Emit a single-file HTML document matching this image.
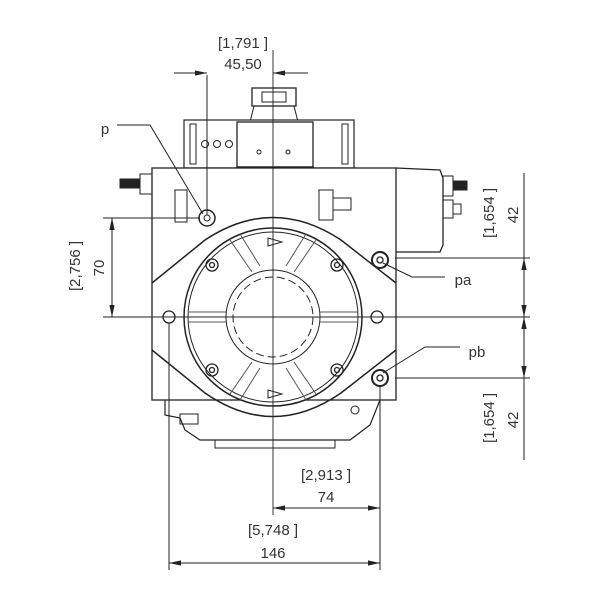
<!DOCTYPE html>
<html><head><style>body{margin:0;background:#fff}svg{display:block}</style></head><body>
<svg width="600" height="600" viewBox="0 0 600 600" xmlns="http://www.w3.org/2000/svg" font-family="Liberation Sans, sans-serif">
<defs>
<marker id="a" viewBox="0 0 10 10" refX="10" refY="5" markerWidth="12" markerHeight="12" markerUnits="userSpaceOnUse" orient="auto-start-reverse"><path d="M0,2.8 L10,5 L0,7.2 z" fill="#222"/></marker>
</defs>
<g stroke="#222" fill="none" stroke-width="1">
<rect x="252" y="88" width="44" height="18" fill="#fff" stroke-width="1.3"/>
<rect x="262" y="92" width="24" height="10"/>
<path d="M254,106 L250,122 M294,106 L298,122"/>
<rect x="184" y="120" width="170" height="48" fill="#fff" stroke-width="1.2"/>
<rect x="190" y="124" width="6" height="40"/><rect x="342" y="124" width="6" height="40"/>
<rect x="237" y="122" width="76" height="106" fill="#fff" stroke-width="1.3"/>
<rect x="237" y="167" width="76" height="60" fill="#fff" stroke-width="1.5"/>
<circle cx="205" cy="144" r="3.5"/><circle cx="217" cy="144" r="3.5"/><circle cx="229" cy="144" r="3.5"/>
<circle cx="259" cy="152" r="2"/><circle cx="288" cy="152" r="2"/>
<rect x="152" y="168" width="244" height="232" fill="#fff" stroke-width="1.3"/>
<path d="M396,168 L440,170 L443,178 L443,245 L440,252 L396,252" stroke-width="1.3"/>
<rect x="443" y="176" width="10" height="20"/><rect x="443" y="200" width="10" height="18"/>
<rect x="453" y="181" width="14" height="9" fill="#222"/><rect x="453" y="204" width="8" height="10"/>
<rect x="140" y="174" width="12" height="20"/><rect x="120" y="179" width="20" height="9" fill="#222"/>
<rect x="175" y="190" width="12" height="32"/>
<rect x="319" y="190" width="14" height="30"/><rect x="333" y="198" width="18" height="12"/>
<circle cx="207" cy="218" r="8" stroke-width="1.5"/><circle cx="207" cy="218" r="3"/>
<path d="M152,283 L205,240 Q273,195 341,240 L396,283" stroke-width="1.5"/>
<path d="M152,350 L205,393 Q273,440 341,393 L396,350" stroke-width="1.5"/>
<circle cx="273" cy="317" r="89" fill="#fff" stroke-width="1.5"/>
<circle cx="273" cy="317" r="85"/>
<circle cx="273" cy="317" r="47"/>
<circle cx="273" cy="317" r="40" stroke-dasharray="8,4"/>
<g stroke="#555">
<path d="M230,240 L252,272 M240,234 L260,266 M316,240 L294,272 M306,234 L286,266"/>
<path d="M230,394 L252,362 M240,400 L260,368 M316,394 L294,362 M306,400 L286,368"/>
<path d="M188,312 L226,312 M188,322 L226,322 M320,312 L358,312 M320,322 L358,322"/>
</g>
<path d="M268,238 L282,242 L268,246 z M268,390 L282,394 L268,398 z"/>
<g stroke-width="1.3">
<circle cx="212" cy="265" r="6"/><circle cx="212" cy="265" r="2.5"/>
<circle cx="337" cy="265" r="6"/><circle cx="337" cy="265" r="2.5"/>
<circle cx="212" cy="370" r="6"/><circle cx="212" cy="370" r="2.5"/>
<circle cx="337" cy="370" r="6"/><circle cx="337" cy="370" r="2.5"/>
<circle cx="169" cy="317" r="6"/><circle cx="377" cy="317" r="6"/>
<circle cx="380" cy="260" r="8" stroke-width="2"/><circle cx="380" cy="260" r="3"/>
<circle cx="380" cy="378" r="8" stroke-width="2"/><circle cx="380" cy="378" r="3"/>
</g>
<path d="M165,400 L165,415 L180,418 L185,430 L200,440 L350,440 L370,425 L380,400" stroke-width="1.2"/>
<rect x="180" y="414" width="18" height="10"/>
<rect x="215" y="440" width="120" height="8"/>
<circle cx="355" cy="410" r="4"/>
<path d="M273,50 L273,515 M103,317 L530,317" stroke-width="0.9"/>
<path d="M207,75 L207,215 M174,73 L207,73 M273,73 L308,73"/>
<path d="M190,73 L207,73" marker-end="url(#a)"/><path d="M290,73 L273,73" marker-end="url(#a)"/>
<path d="M103,218 L200,218"/>
<path d="M112,218 L112,317" marker-start="url(#a)" marker-end="url(#a)"/>
<path d="M117,125 L150,125 L203,214"/>
<path d="M395,258 L530,258 M395,378 L530,378"/>
<path d="M524,173 L524,460"/>
<path d="M524,258 L524,317" marker-start="url(#a)" marker-end="url(#a)"/>
<path d="M524,317 L524,378" marker-start="url(#a)" marker-end="url(#a)"/>
<path d="M383,263 L412,277 L445,277 M383,373 L425,347 L460,347"/>
<path d="M169,323 L169,570 M380,386 L380,570"/>
<path d="M273,508 L380,508" marker-start="url(#a)" marker-end="url(#a)"/>
<path d="M169,563 L380,563" marker-start="url(#a)" marker-end="url(#a)"/>
</g>
<g fill="#333" font-size="15" text-anchor="middle">
<text x="243" y="48">[1,791 ]</text>
<text x="243" y="69">45,50</text>
<text x="105" y="134">p</text>
<text x="463" y="285">pa</text>
<text x="477" y="357">pb</text>
<text x="326" y="480">[2,913 ]</text>
<text x="326" y="502">74</text>
<text x="273" y="535">[5,748 ]</text>
<text x="273" y="558">146</text>
<text transform="translate(80,266) rotate(-90)">[2,756 ]</text>
<text transform="translate(104,268) rotate(-90)">70</text>
<text transform="translate(494,213) rotate(-90)">[1,654 ]</text>
<text transform="translate(518,215) rotate(-90)">42</text>
<text transform="translate(494,418) rotate(-90)">[1,654 ]</text>
<text transform="translate(518,420) rotate(-90)">42</text>
</g>
</svg>
</body></html>
